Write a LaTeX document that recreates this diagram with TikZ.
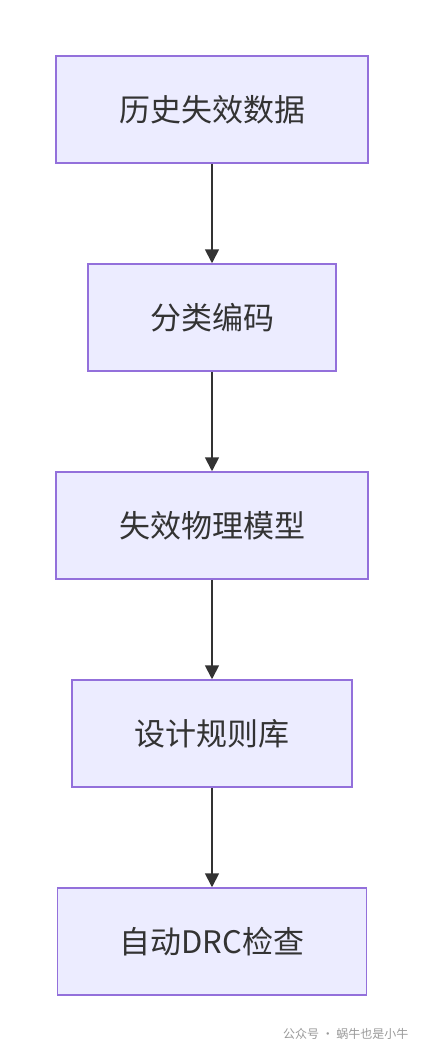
\documentclass[tikz,border=0pt]{standalone}
\usepackage{fontspec}
\newfontfamily\cjk{Noto Sans CJK SC}
\usetikzlibrary{positioning,arrows.meta}
\definecolor{boxfill}{HTML}{ECECFF}
\definecolor{boxline}{HTML}{9370DB}
\definecolor{ink}{HTML}{333333}
\tikzset{
  stepbox/.style={draw=boxline,fill=boxfill,line width=1.5pt,minimum height=107pt,
    text=ink,font=\cjk\fontsize{31}{36}\selectfont,inner sep=0pt},
  flow/.style={draw=ink,line width=1.8pt,-{Triangle[length=14pt,width=14pt]}}
}
\begin{document}
\begin{tikzpicture}[x=1pt,y=-1pt,node distance=99.5pt]
  \useasboundingbox (0,0) rectangle (424,1052);
  % process chain
  \node[stepbox,minimum width=312pt] (hist) at (212,109.5) {历史失效数据};
  \node[stepbox,minimum width=248pt,below=of hist] (code) {分类编码};
  \node[stepbox,minimum width=312pt,below=of code] (model) {失效物理模型};
  \node[stepbox,minimum width=280pt,below=of model] (rules) {设计规则库};
  \node[stepbox,minimum width=309pt,below=of rules] (drc) {自动DRC检查};
  \draw[flow] (hist) -- (code);
  \draw[flow] (code) -- (model);
  \draw[flow] (model) -- (rules);
  \draw[flow] (rules) -- (drc);
  % watermark
  \node[text=black!40,font=\cjk\fontsize{12}{14}\selectfont,anchor=east] (mark) at (412,1034) {公众号 · 蜗牛也是小牛};
\end{tikzpicture}
\end{document}
